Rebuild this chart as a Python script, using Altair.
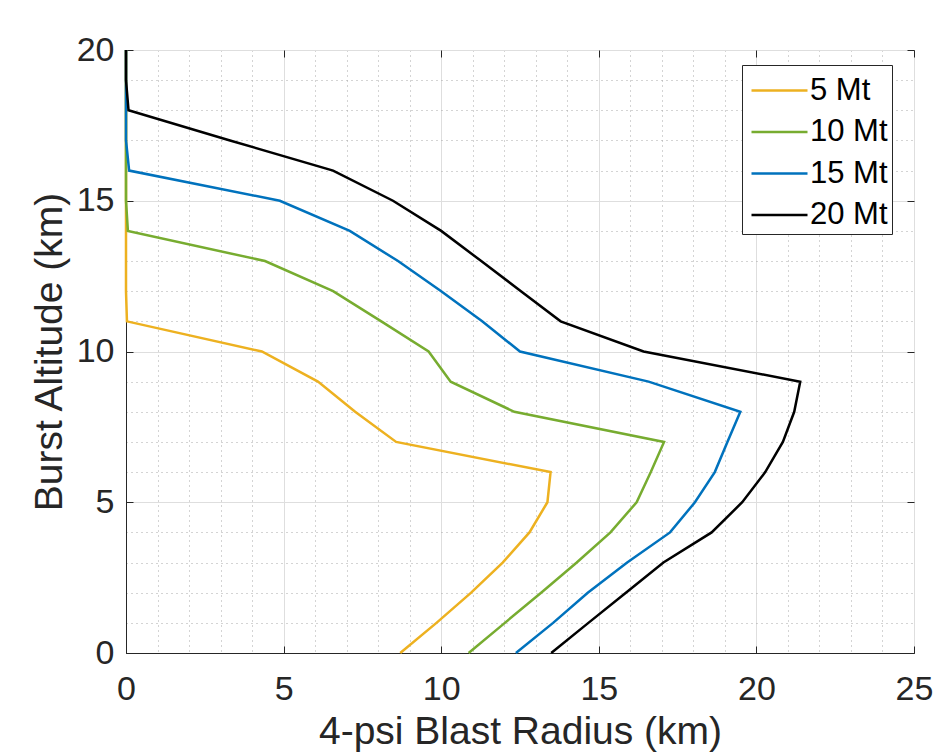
import altair as alt
import pandas as pd

# ---- data ----
altitude = list(range(21))  # burst altitude (km)
series = ["5 Mt", "10 Mt", "15 Mt", "20 Mt"]
colors = ["#EDB120", "#77AC30", "#0072BD", "#000000"]

r5 = [8.7, 9.85, 10.95, 11.95, 12.8, 13.37, 13.47, 8.57, 7.27, 6.09, 4.31,
      0.03, 0, 0, 0, 0, 0, 0, 0, 0, 0]
r10 = [10.87, 12.02, 13.17, 14.3, 15.37, 16.2, 16.65, 17.07, 12.32, 10.3, 9.6,
       8.1, 6.57, 4.41, 0.06, 0, 0, 0, 0, 0, 0]
r15 = [12.37, 13.55, 14.65, 15.9, 17.26, 18.05, 18.68, 19.08, 19.49, 16.58, 12.5,
       11.3, 10.0, 8.63, 7.1, 4.88, 0.1, 0, 0, 0, 0]
r20 = [13.49, 14.67, 15.86, 17.05, 18.58, 19.55, 20.28, 20.84, 21.2, 21.39, 16.42,
       13.79, 12.53, 11.27, 10.0, 8.47, 6.57, 3.3, 0.08, 0, 0]

major_x = [0, 5, 10, 15, 20, 25]
major_y = [0, 5, 10, 15, 20]
minor_x = list(range(26))
minor_y = list(range(21))

rows = []
for s, r in zip(series, [r5, r10, r15, r20]):
    for a, v in zip(altitude, r):
        rows.append({"radius": v, "alt": a, "series": s})
df = pd.DataFrame(rows)

W, H = 788, 603
FONT = "Liberation Sans"
AX = "#262626"

xs = alt.Scale(domain=[0, 25], nice=False, zero=False)
ys = alt.Scale(domain=[0, 20], nice=False, zero=False)

base = alt.Chart(df)


def blank(**kw):
    d = dict(labels=False, ticks=False, domain=False, grid=False, title=None)
    d.update(kw)
    return alt.Axis(**d)


# minor dotted grid
minor = base.mark_point(opacity=0).encode(
    x=alt.X("radius:Q", scale=xs, axis=blank(values=minor_x, orient="bottom", grid=True,
                                              gridDash=[1, 4], gridColor="#a8a8a8", gridWidth=1)),
    y=alt.Y("alt:Q", scale=ys, axis=blank(values=minor_y, orient="left", grid=True,
                                           gridDash=[1, 4], gridColor="#a8a8a8", gridWidth=1)),
)

# inward ticks bottom / left
ticks_bl = base.mark_point(opacity=0).encode(
    x=alt.X("radius:Q", scale=xs, axis=blank(values=major_x, orient="bottom", ticks=True,
                                              tickSize=7, offset=-7, tickColor=AX, tickWidth=1)),
    y=alt.Y("alt:Q", scale=ys, axis=blank(values=major_y, orient="left", ticks=True,
                                           tickSize=7, offset=-7, tickColor=AX, tickWidth=1)),
)

# inward ticks top / right
ticks_tr = base.mark_point(opacity=0).encode(
    x=alt.X("radius:Q", scale=xs, axis=blank(values=major_x, orient="top", ticks=True,
                                              tickSize=7, offset=-7, tickColor=AX, tickWidth=1)),
    y=alt.Y("alt:Q", scale=ys, axis=blank(values=major_y, orient="right", ticks=True,
                                           tickSize=7, offset=-7, tickColor=AX, tickWidth=1)),
)

lines = base.mark_line(strokeWidth=2.5).encode(
    x=alt.X("radius:Q", scale=xs, axis=alt.Axis(
        values=major_x, orient="bottom", grid=True, gridColor="#dedede", gridWidth=1,
        ticks=False, domain=True, domainColor=AX, domainWidth=1, labelFlush=False,
        labelFont=FONT, labelFontSize=34, labelColor=AX, labelPadding=19,
        title="4-psi Blast Radius (km)", titleFont=FONT, titleFontSize=39,
        titleFontWeight="normal", titleColor=AX, titleBaseline="alphabetic",
        titleY=90, titleX=W / 2)),
    y=alt.Y("alt:Q", scale=ys, axis=alt.Axis(
        values=major_y, orient="left", grid=True, gridColor="#dedede", gridWidth=1,
        ticks=False, domain=True, domainColor=AX, domainWidth=1, labelFlush=False,
        labelFont=FONT, labelFontSize=34, labelColor=AX, labelPadding=12,
        title="Burst Altitude (km)", titleFont=FONT, titleFontSize=39,
        titleFontWeight="normal", titleColor=AX, titleBaseline="alphabetic",
        titleAngle=270, titleX=-65, titleY=H / 2)),
    color=alt.Color("series:N", sort=series,
                    scale=alt.Scale(domain=series, range=colors),
                    legend=alt.Legend(
                        title=None, orient="none", legendX=616, legendY=15,
                        labelFont=FONT, labelFontSize=31, labelColor="#000000",
                        symbolType="M-1.4,0H1.4", symbolSize=1600, symbolStrokeWidth=2.5,
                        strokeColor=AX, fillColor="white", padding=4,
                        rowPadding=4.5, labelOffset=9, symbolOffset=12)),
    order=alt.Order("alt:Q"),
)

chart = alt.layer(minor, ticks_bl, ticks_tr, lines).resolve_axis(
    x="independent", y="independent"
).properties(
    width=W, height=H,
    autosize=alt.AutoSizeParams(type="none"),
    padding={"left": 118, "top": 42, "right": 20, "bottom": 99},
    background="white",
).configure_view(stroke=AX, strokeWidth=1)

chart.save("out.html", embed_options={"renderer": "svg", "actions": False})
